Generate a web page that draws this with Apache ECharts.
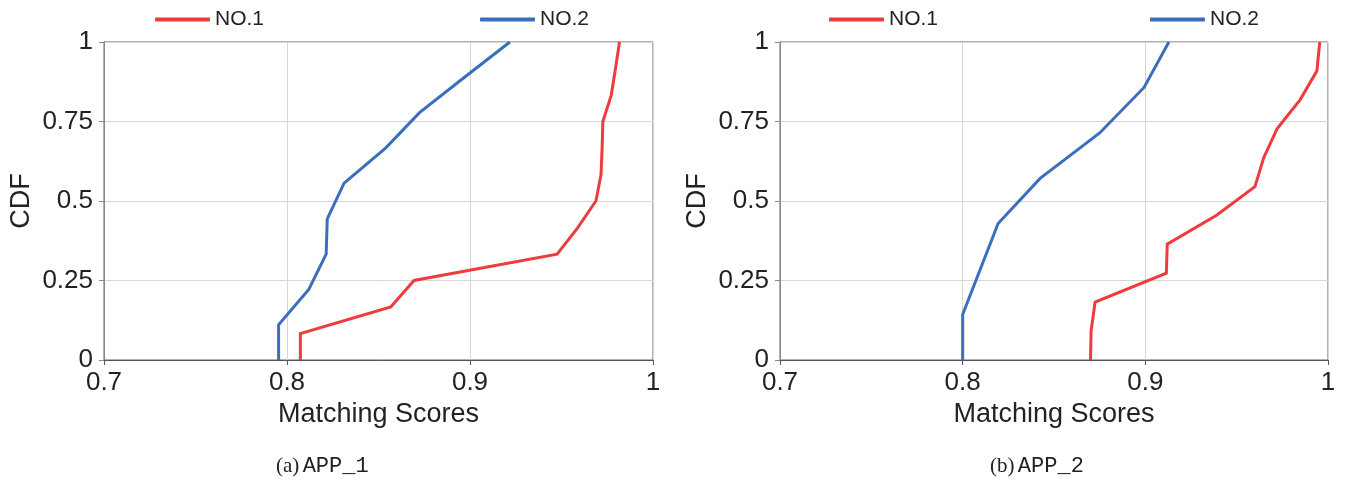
<!DOCTYPE html>
<html>
<head>
<meta charset="utf-8">
<script src="https://cdn.jsdelivr.net/npm/echarts@6/dist/echarts.min.js"></script>
<style>
  html, body { margin: 0; padding: 0; background: #fff; }
  #chart { width: 1346px; height: 484px; }
</style>
</head>
<body>
<div id="chart"></div>
<script>
// CDF of matching scores, two apps side by side
const xTicks = ['0.7', '0.8', '0.9', '1'];
const yTicks = ['0', '0.25', '0.5', '0.75', '1'];

// APP_1
const app1No1Score = [0.8073, 0.8073, 0.8567, 0.8694, 0.9476, 0.9590, 0.9688, 0.9716, 0.9722, 0.9726, 0.9772, 0.9795, 0.9817];
const app1No1Cdf   = [0, 0.083, 0.167, 0.25, 0.333, 0.417, 0.5, 0.583, 0.667, 0.75, 0.833, 0.917, 1];
const app1No2Score = [0.7954, 0.7954, 0.8119, 0.8214, 0.8220, 0.8312, 0.8540, 0.8724, 0.8970, 0.9218];
const app1No2Cdf   = [0, 0.111, 0.222, 0.333, 0.444, 0.556, 0.667, 0.778, 0.889, 1];

// APP_2
const app2No1Score = [0.8700, 0.8703, 0.8725, 0.9115, 0.9120, 0.9390, 0.9600, 0.9648, 0.9721, 0.9847, 0.9939, 0.9955];
const app2No1Cdf   = [0, 0.091, 0.182, 0.273, 0.364, 0.455, 0.545, 0.636, 0.727, 0.818, 0.909, 1];
const app2No2Score = [0.8000, 0.8000, 0.8097, 0.8194, 0.8424, 0.8750, 0.8993, 0.9129];
const app2No2Cdf   = [0, 0.143, 0.286, 0.429, 0.571, 0.714, 0.857, 1];

const seriesNames = ['NO.1', 'NO.2'];
const captions = [['(a)', 'APP_1'], ['(b)', 'APP_2']];

const RED = '#EE3B3D';
const BLUE = '#3A6FBD';
const FONT = '"Liberation Sans", Arial, sans-serif';
const TXT = '#222';

const pairs = (xs, ys) => xs.map((x, i) => [x, ys[i]]);

const grids = [
  { left: 104, width: 549, top: 42, height: 318 },
  { left: 780, width: 548, top: 42, height: 318 }
];

function xAxisFor(i) {
  return {
    gridIndex: i, type: 'value', min: 0.7, max: 1, interval: 0.1,
    name: 'Matching Scores', nameLocation: 'middle', nameGap: 54,
    nameTextStyle: { fontFamily: FONT, fontSize: 27, color: TXT, verticalAlign: 'middle' },
    axisLine: { show: true, onZero: false, lineStyle: { color: '#555', width: 1 } },
    axisTick: { show: true, inside: false, length: 5, lineStyle: { color: '#555' } },
    axisLabel: {
      fontFamily: FONT, fontSize: 26, color: TXT, margin: 10,
      formatter: v => xTicks.find(t => Math.abs(parseFloat(t) - v) < 1e-6) || ''
    },
    splitLine: { show: true, lineStyle: { color: '#d6d6d6', width: 1 } }
  };
}
function yAxisFor(i) {
  return {
    gridIndex: i, type: 'value', min: 0, max: 1, interval: 0.25,
    name: 'CDF', nameLocation: 'middle', nameGap: 82, nameRotate: 90,
    nameTextStyle: { fontFamily: FONT, fontSize: 27, color: TXT, verticalAlign: 'middle' },
    axisLine: { show: true, lineStyle: { color: '#888', width: 1 } },
    axisTick: { show: true, inside: false, length: 5, lineStyle: { color: '#888' } },
    axisLabel: {
      fontFamily: FONT, fontSize: 26, color: TXT, margin: 11,
      formatter: v => yTicks.find(t => Math.abs(parseFloat(t) - v) < 1e-6) || ''
    },
    splitLine: { show: true, lineStyle: { color: '#d6d6d6', width: 1 } }
  };
}
function lineSeries(name, color, data, i) {
  return {
    name, type: 'line', xAxisIndex: i, yAxisIndex: i, data,
    showSymbol: false, symbol: 'none', animation: false,
    lineStyle: { color, width: 3, join: 'miter' }, itemStyle: { color }
  };
}
function legendAt(left, name, color) {
  return {
    left, top: 9, padding: 0, data: [{ name, itemStyle: { color } }],
    icon: 'roundRect', itemWidth: 55, itemHeight: 4,
    textStyle: { fontFamily: FONT, fontSize: 21, color: TXT },
    selectedMode: false
  };
}
function caption(cx, tag, label) {
  return {
    type: 'text', left: cx, top: 455,
    style: {
      text: '{t|' + tag + '} {m|' + label + '}',
      rich: {
        t: { fontFamily: '"Liberation Serif", "Times New Roman", serif', fontSize: 21, fill: '#222' },
        m: { fontFamily: '"Liberation Mono", "Courier New", monospace', fontSize: 22, fill: '#222' }
      }
    }
  };
}

const chart = echarts.init(document.getElementById('chart'), null, { renderer: 'canvas' });
chart.setOption({
  backgroundColor: '#fff',
  animation: false,
  grid: grids.map(g => Object.assign({ show: true, borderColor: '#666', borderWidth: 1, backgroundColor: 'transparent' }, g)),
  xAxis: [xAxisFor(0), xAxisFor(1)],
  yAxis: [yAxisFor(0), yAxisFor(1)],
  legend: [
    legendAt(155, seriesNames[0], RED),
    legendAt(480, seriesNames[1], BLUE),
    legendAt(829, seriesNames[0], RED),
    legendAt(1150, seriesNames[1], BLUE)
  ],
  series: [
    lineSeries(seriesNames[0], RED, pairs(app1No1Score, app1No1Cdf), 0),
    lineSeries(seriesNames[1], BLUE, pairs(app1No2Score, app1No2Cdf), 0),
    lineSeries(seriesNames[0], RED, pairs(app2No1Score, app2No1Cdf), 1),
    lineSeries(seriesNames[1], BLUE, pairs(app2No2Score, app2No2Cdf), 1)
  ],
  graphic: [
    caption(276, captions[0][0], captions[0][1]),
    caption(990, captions[1][0], captions[1][1])
  ]
});
</script>
</body>
</html>
